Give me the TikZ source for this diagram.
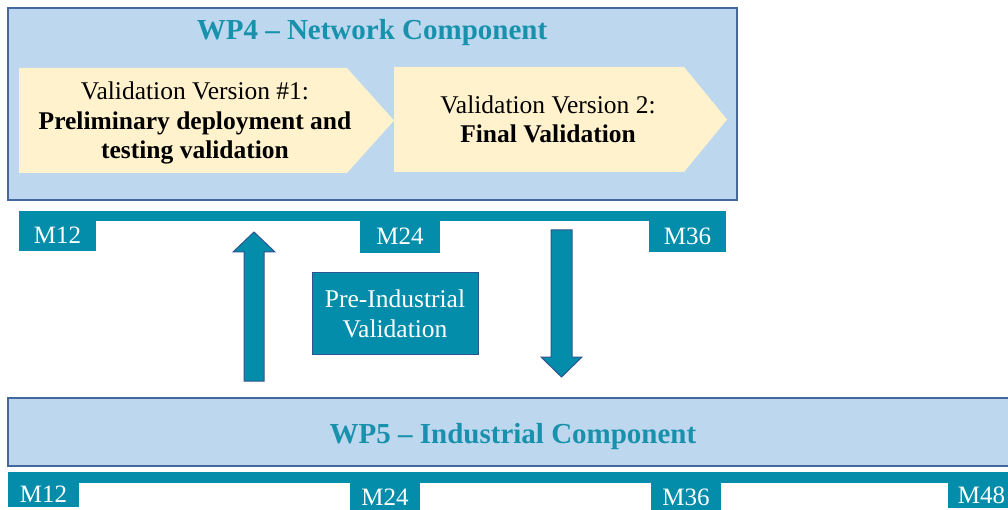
\documentclass[tikz,border=0pt]{standalone}
\usepackage{fontspec}
\setmainfont{Liberation Serif}
\definecolor{teal1}{RGB}{3,141,170}
\definecolor{titleteal}{RGB}{24,145,172}
\definecolor{lightblue}{RGB}{189,215,238}
\definecolor{boxborder}{RGB}{68,104,156}
\definecolor{arrowborder}{RGB}{47,85,145}
\definecolor{lightyellow}{RGB}{255,242,204}
\tikzset{
  wpbox/.style={fill=lightblue, draw=boxborder, line width=1.3pt},
  chev/.style={fill=lightyellow},
  bar/.style={fill=teal1},
  tab/.style={rectangle, fill=teal1, inner sep=0pt, text=white, font=\fontsize{25}{29.5}\selectfont},
  blockarrow/.style={fill=teal1, draw=arrowborder, line width=1pt, line join=miter},
  wptitle/.style={anchor=base, text=titleteal, font=\fontsize{29}{34}\selectfont\bfseries, inner sep=0pt},
  chevtext/.style={align=center, inner sep=0pt, text=black, font=\fontsize{25.5}{29.5}\selectfont},
}
\begin{document}
\begin{tikzpicture}[x=1pt,y=-1pt]
\useasboundingbox (0,0) rectangle (1008,510);
\clip (0,0) rectangle (1008,510);
\fill[white] (0,0) rectangle (1008,510);

% WP4 box
\draw[wpbox] (8,8) rectangle (737,200);
\node[wptitle] (wp4title) at (372,40) {WP4 -- Network Component};

% chevrons
\fill[chev] (19,68) -- (347,68) -- (394,120.5) -- (347,173) -- (19,173) -- cycle;
\fill[chev] (394,67) -- (684,67) -- (727,119.5) -- (684,172) -- (394,172) -- cycle;
\node[chevtext] (v1) at (195,123) {Validation Version \#1:\\ \textbf{Preliminary deployment and}\\ \textbf{testing validation}};
\node[chevtext] (v2) at (548,119.5) {Validation Version 2:\\ \textbf{Final Validation}};

% top timeline
\fill[bar] (19,210.7) rectangle (726,221);
\node[tab, minimum width=77pt, minimum height=31pt] (t12) at (57.5,235.5) {M12};
\node[tab, minimum width=80pt, minimum height=33pt] (t24) at (400,236.5) {M24};
\node[tab, minimum width=77pt, minimum height=32pt] (t36) at (687.5,236) {M36};

% arrows
\draw[blockarrow] (244,381) -- (244,252) -- (233,252) -- (254,232) -- (275,252) -- (264,252) -- (264,381) -- cycle;
\draw[blockarrow] (551,230) -- (572,230) -- (572,357) -- (582,357) -- (561.5,377) -- (541,357) -- (551,357) -- cycle;

% pre-industrial box
\node[rectangle, fill=teal1, draw=arrowborder, line width=1pt, minimum width=166pt, minimum height=81pt,
      align=center, inner sep=0pt, text=white, font=\fontsize{25.5}{30}\selectfont] (pre) at (395,313.5)
      {Pre-Industrial\\ Validation};

% WP5 box
\draw[wpbox] (8,398) rectangle (1020,466);
\node[wptitle] (wp5title) at (513,443) {WP5 -- Industrial Component};

% bottom timeline
\fill[bar] (8,471.7) rectangle (1020,483);
\node[tab, minimum width=71pt, minimum height=25pt] (b12) at (43.5,494.5) {M12};
\node[tab, minimum width=70pt, minimum height=32pt] (b24) at (385,497.5) {M24};
\node[tab, minimum width=70pt, minimum height=32pt] (b36) at (686,497.5) {M36};
\node[tab, minimum width=67pt, minimum height=25pt] (b48) at (981.5,495) {M48};
\end{tikzpicture}
\end{document}
